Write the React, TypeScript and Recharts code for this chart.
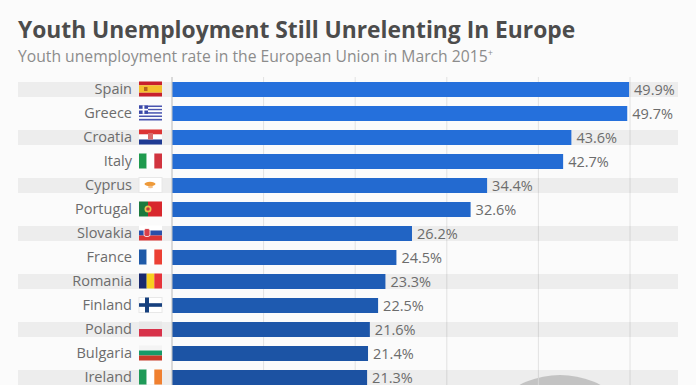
import { Bar, BarChart, CartesianGrid, Cell, LabelList, XAxis, YAxis } from "recharts";

const countries = ["Spain", "Greece", "Croatia", "Italy", "Cyprus", "Portugal", "Slovakia", "France", "Romania", "Finland", "Poland", "Bulgaria", "Ireland"];
const rates = [49.9, 49.7, 43.6, 42.7, 34.4, 32.6, 26.2, 24.5, 23.3, 22.5, 21.6, 21.4, 21.3];
const barColors = ["#2570dc", "#2570dc", "#246ed8", "#246cd4", "#236ad0", "#2267ca", "#2164c4", "#2060bc", "#1f5db6", "#1e5ab0", "#1d56a9", "#1c54a5", "#1c52a2"];
const xTicks = [0, 10, 20, 30, 40, 50];

const data = countries.map((country, i) => ({ country, rate: rates[i] }));

const FONT = "'Open Sans', sans-serif";

// flags are 23x15, drawn from the tick position
function Flag({ name }: { name: string }) {
  const w = 23;
  const h = 15;
  const hBands = (colors: string[], sizes?: number[]) => {
    let top = 0;
    const total = sizes ? sizes.reduce((a, b) => a + b, 0) : colors.length;
    return colors.map((c, i) => {
      const bh = (h * (sizes ? sizes[i] : 1)) / total;
      const r = <rect key={i} x={0} y={top} width={w} height={bh} fill={c} />;
      top += bh;
      return r;
    });
  };
  const vBands = (colors: string[]) =>
    colors.map((c, i) => <rect key={i} x={(w / colors.length) * i} y={0} width={w / colors.length} height={h} fill={c} />);

  switch (name) {
    case "Spain":
      return (
        <>
          {hBands(["#c8202c", "#f5c02c", "#c8202c"], [1, 2, 1])}
          <rect x={5} y={5.5} width={3.5} height={4} fill="#b5651d" />
        </>
      );
    case "Greece":
      return (
        <>
          {hBands(["#4a55b0", "#fff", "#4a55b0", "#fff", "#4a55b0", "#fff", "#4a55b0", "#fff", "#4a55b0"])}
          <rect x={0} y={0} width={9} height={8.3} fill="#3a48a8" />
          <rect x={3.6} y={0} width={1.8} height={8.3} fill="#fff" />
          <rect x={0} y={3.3} width={9} height={1.7} fill="#fff" />
        </>
      );
    case "Croatia":
      return (
        <>
          {hBands(["#dc3535", "#fff", "#1f3a93"])}
          <rect x={9} y={3.5} width={5} height={6.5} fill="#d96a6a" />
        </>
      );
    case "Italy":
      return <>{vBands(["#1f9a4e", "#fff", "#d1343f"])}</>;
    case "Cyprus":
      return (
        <>
          <rect width={w} height={h} fill="#fff" stroke="#e8e8e8" />
          <ellipse cx={11} cy={6.5} rx={5.5} ry={2.2} fill="#ee9a3a" />
          <ellipse cx={11.5} cy={9.5} rx={2.5} ry={1.3} fill="#f4c08a" />
        </>
      );
    case "Portugal":
      return (
        <>
          <rect width={9} height={h} fill="#1c7a3e" />
          <rect x={9} width={14} height={h} fill="#d8272d" />
          <circle cx={9} cy={7.5} r={3.5} fill="#e8c050" />
          <circle cx={9} cy={7.5} r={1.8} fill="#c8343a" />
        </>
      );
    case "Slovakia":
      return (
        <>
          {hBands(["#fff", "#2a4fa8", "#dc3535"])}
          <rect x={5} y={3} width={6} height={8} rx={2} fill="#d8404a" stroke="#fff" strokeWidth={0.8} />
        </>
      );
    case "France":
      return <>{vBands(["#1f5aa8", "#fff", "#ec4034"])}</>;
    case "Romania":
      return <>{vBands(["#18296e", "#f8d020", "#e6343a"])}</>;
    case "Finland":
      return (
        <>
          <rect width={w} height={h} fill="#fff" stroke="#e8e8e8" />
          <rect x={6} y={0} width={4} height={h} fill="#17407e" />
          <rect x={0} y={5.7} width={w} height={3.6} fill="#17407e" />
        </>
      );
    case "Poland":
      return <>{hBands(["#e8e8e8", "#d8324a"])}</>;
    case "Bulgaria":
      return <>{hBands(["#f4f4f4", "#179a68", "#c83a28"])}</>;
    case "Ireland":
      return <>{vBands(["#1f9a58", "#fff", "#f08030"])}</>;
    default:
      return null;
  }
}

function CountryTick({ x, y, payload }: any) {
  return (
    <g>
      <text x={x - 32} y={y + 5} textAnchor="end" fontFamily={FONT} fontSize={14.5} fill="#6c6c6c">
        {payload.value}
      </text>
      <g transform={`translate(${x - 25},${y - 7.5})`}>
        <Flag name={payload.value} />
      </g>
    </g>
  );
}

// x axis keeps its ticks for the grid but shows no labels
function NoTick() {
  return <g />;
}

// full width zebra stripe behind every other row
function RowStripe({ y, height, index }: any) {
  if (index % 2 !== 0) return null;
  return <rect x={18} y={y} width={660} height={height} fill="#000" fillOpacity={0.055} />;
}

export default function App() {
  return (
    <div style={{ position: "relative", width: 696, height: 385, overflow: "hidden", background: "#fbfbfb" }}>
      <style>{`body { margin: 0; }`}</style>
      <div style={{ position: "absolute", left: 18, top: 14, fontFamily: FONT, fontWeight: 700, fontSize: 22.8, color: "#4c4c4c", whiteSpace: "nowrap" }}>
        Youth Unemployment Still Unrelenting In Europe
      </div>
      <div style={{ position: "absolute", left: 18, top: 45, fontFamily: FONT, fontSize: 15.7, color: "#8c8c8c", whiteSpace: "nowrap" }}>
        Youth unemployment rate in the European Union in March 2015<sup style={{ fontSize: 9, lineHeight: 0 }}>+</sup>
      </div>
      {/* top of the round logo at the bottom edge */}
      <div style={{ position: "absolute", left: 473, top: 375, width: 174, height: 174, borderRadius: "50%", background: "#cfcfcf" }} />
      <div style={{ position: "absolute", left: 0, top: 0 }}>
        <BarChart
          width={696}
          height={400}
          data={data}
          layout="vertical"
          margin={{ top: 77, right: 66, bottom: 11, left: 0 }}
          barCategoryGap={0}
        >
          <CartesianGrid horizontal={false} stroke="#e2e2e2" />
          <XAxis type="number" domain={[0, 50]} ticks={xTicks} interval={0} height={0} axisLine={false} tickLine={false} tick={<NoTick />} />
          <YAxis
            type="category"
            dataKey="country"
            width={172}
            interval={0}
            tick={<CountryTick />}
            tickLine={false}
            axisLine={{ stroke: "#c4c4c4" }}
          />
          <Bar dataKey="rate" barSize={15} isAnimationActive={false} background={<RowStripe />}>
            {barColors.map((c, i) => (
              <Cell key={i} fill={c} />
            ))}
            <LabelList
              dataKey="rate"
              position="right"
              offset={5}
              formatter={(v: any) => `${Number(v).toFixed(1)}%`}
              style={{ fontFamily: FONT, fontSize: 14.5, fill: "#6c6c6c" }}
            />
          </Bar>
        </BarChart>
      </div>
    </div>
  );
}
